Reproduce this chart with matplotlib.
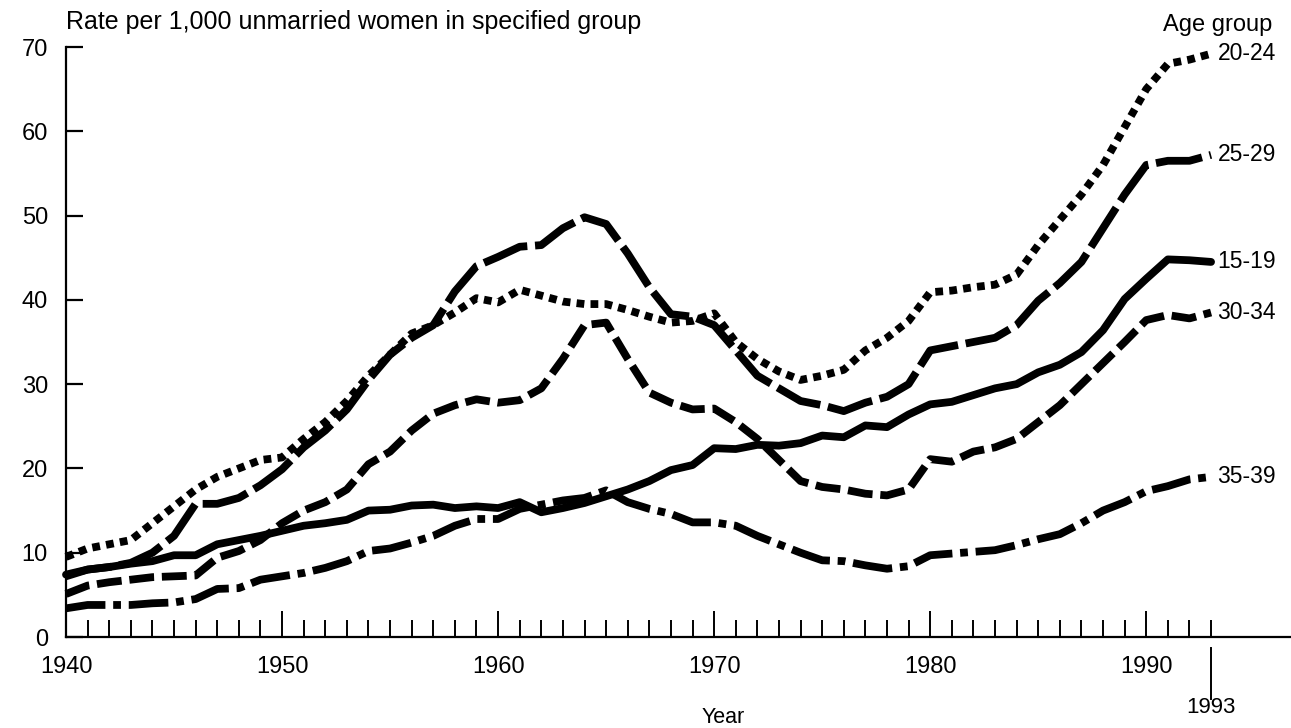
import numpy as np
import matplotlib.pyplot as plt

plt.rcParams['font.family'] = ['Liberation Sans', 'DejaVu Sans']

years = np.arange(1940, 1994)

# birth rates per 1,000 unmarried women
r15_19 = [7.4, 8.0, 8.3, 8.7, 9.0, 9.7, 9.7, 11.0, 11.5, 12.0,
          12.6, 13.2, 13.5, 13.9, 15.0, 15.1, 15.6, 15.7, 15.3, 15.5,
          15.3, 16.0, 14.8, 15.3, 15.9, 16.7, 17.5, 18.5, 19.8, 20.4,
          22.4, 22.3, 22.8, 22.7, 23.0, 23.9, 23.7, 25.1, 24.9, 26.4,
          27.6, 27.9, 28.7, 29.5, 30.0, 31.4, 32.3, 33.8, 36.4, 40.1,
          42.5, 44.8, 44.7, 44.5]
r20_24 = [9.5, 10.5, 11.0, 11.5, 13.5, 15.5, 17.5, 19.0, 20.0, 21.0,
          21.3, 23.5, 25.5, 28.0, 31.0, 33.5, 36.0, 37.0, 38.5, 40.2,
          39.7, 41.2, 40.5, 39.8, 39.5, 39.5, 38.8, 38.0, 37.3, 37.5,
          38.4, 35.0, 33.0, 31.5, 30.5, 31.0, 31.7, 34.0, 35.5, 37.5,
          40.9, 41.1, 41.5, 41.8, 43.0, 46.5, 49.5, 52.5, 56.0, 60.5,
          65.0, 68.0, 68.5, 69.2]
r25_29 = [7.2, 8.0, 8.3, 8.8, 10.0, 12.0, 15.8, 15.8, 16.5, 18.0,
          19.9, 22.5, 24.5, 27.0, 30.5, 33.5, 35.5, 37.0, 41.0, 44.0,
          45.1, 46.3, 46.5, 48.5, 49.8, 49.0, 45.5, 41.5, 38.3, 38.0,
          37.0, 34.0, 31.0, 29.5, 28.0, 27.5, 26.8, 27.8, 28.5, 30.0,
          34.0, 34.5, 35.0, 35.5, 37.0, 39.9, 42.0, 44.5, 48.5, 52.5,
          56.0, 56.5, 56.5, 57.2]
r30_34 = [5.1, 6.1, 6.5, 6.8, 7.1, 7.2, 7.3, 9.4, 10.2, 11.5,
          13.5, 15.0, 16.0, 17.5, 20.5, 22.0, 24.5, 26.5, 27.5, 28.2,
          27.8, 28.1, 29.5, 33.0, 37.0, 37.3, 33.0, 29.0, 27.8, 27.0,
          27.1, 25.5, 23.5, 21.0, 18.5, 17.8, 17.5, 17.0, 16.8, 17.5,
          21.1, 20.8, 22.0, 22.5, 23.5, 25.5, 27.5, 30.0, 32.5, 35.0,
          37.6, 38.2, 37.8, 38.5]
r35_39 = [3.4, 3.8, 3.8, 3.8, 4.0, 4.1, 4.5, 5.7, 5.8, 6.8,
          7.2, 7.6, 8.2, 9.0, 10.2, 10.5, 11.2, 12.0, 13.2, 14.0,
          14.0, 15.2, 15.7, 16.2, 16.5, 17.4, 16.0, 15.2, 14.6, 13.6,
          13.6, 13.2, 12.0, 11.0, 10.0, 9.1, 9.0, 8.5, 8.1, 8.4,
          9.7, 9.9, 10.1, 10.3, 10.9, 11.6, 12.2, 13.5, 15.0, 16.0,
          17.3, 17.9, 18.7, 19.0]

series = [
    ('20-24', r20_24, (0, (1.0, 0.8))),
    ('25-29', r25_29, (0, (6.0, 1.0))),
    ('15-19', r15_19, '-'),
    ('30-34', r30_34, (0, (3.2, 1.0))),
    ('35-39', r35_39, (0, (5.1, 1.0, 1.0, 1.0))),
]

fig = plt.figure(figsize=(12.91, 7.28), dpi=100)
ax = fig.add_axes([66 / 1291, 1 - 637 / 728, 1 - 66 / 1291, (637 - 47) / 728])

for name, vals, ls in series:
    ax.plot(years, vals, color='black', lw=5.6, linestyle=ls,
            solid_capstyle='round', dash_capstyle='butt', clip_on=False)
    ax.text(1993.3, vals[-1], name, fontsize=16.5, va='center', ha='left')

ax.set_xlim(1940, 1996.7)
ax.set_ylim(0, 70)
for s in ['top', 'right']:
    ax.spines[s].set_visible(False)
ax.spines['left'].set_linewidth(1.6)
ax.spines['bottom'].set_linewidth(1.6)

ax.set_yticks(np.arange(0, 71, 10))
ax.tick_params(axis='y', direction='in', length=12, width=1.6, pad=13, labelsize=17)
ax.set_xticks(np.arange(1940, 1991, 10))
ax.set_xticks([y for y in range(1941, 1994) if y % 10], minor=True)
ax.tick_params(axis='x', which='major', direction='in', length=19, width=1.4,
               pad=14, labelsize=17)
ax.tick_params(axis='x', which='minor', direction='in', length=12, width=1.4)

# 1993 marker below the axis
ax.plot([1993, 1993], [-1.3, -7.4], color='black', lw=1.4, clip_on=False)
ax.text(1993, -8.4, '1993', fontsize=16, ha='center', va='center')
ax.text(1970.4, -9.6, 'Year', fontsize=15.5, ha='center', va='center')

fig.text(66 / 1291, 1 - 22 / 728, 'Rate per 1,000 unmarried women in specified group',
         fontsize=18, va='center', ha='left')
fig.text(1218 / 1291, 1 - 25 / 728, 'Age group', fontsize=17, va='center', ha='center')

fig.savefig('out.png', dpi=100)
